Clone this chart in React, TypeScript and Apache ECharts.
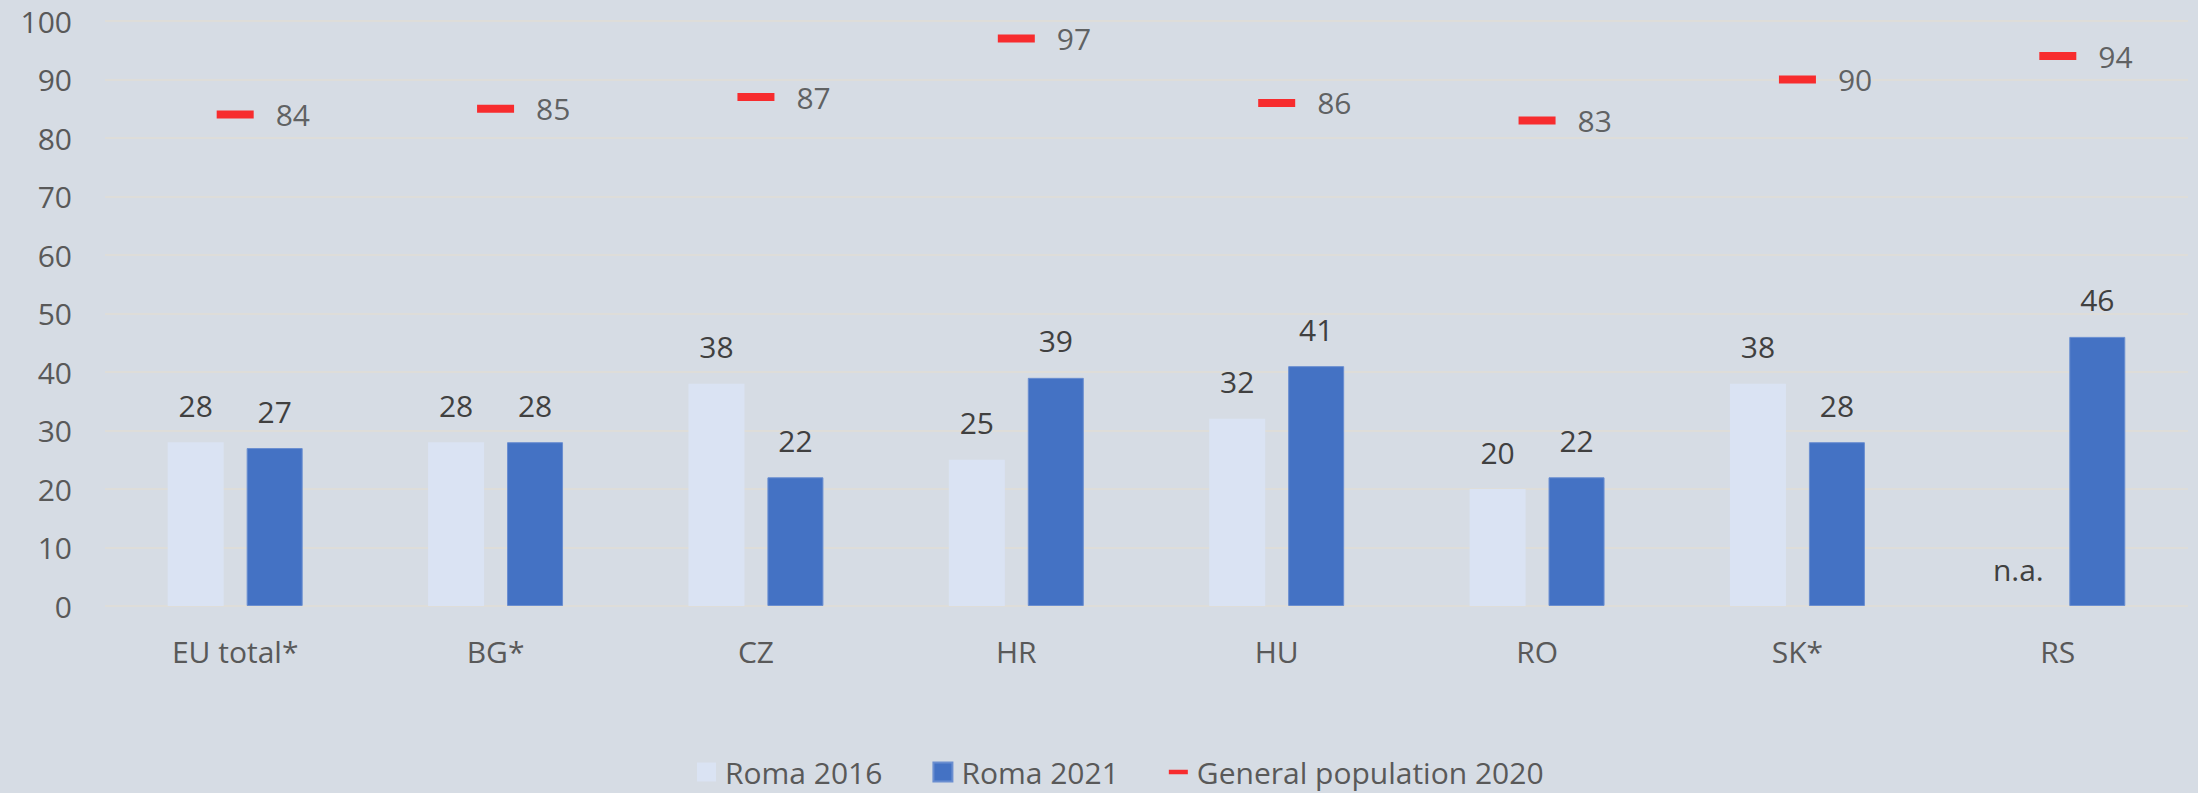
import React, { useEffect, useRef } from "react";
import * as echarts from "echarts";

const categories = ["EU total*", "BG*", "CZ", "HR", "HU", "RO", "SK*", "RS"];
const roma2016: (number | null)[] = [28, 28, 38, 25, 32, 20, 38, null];
const roma2021: number[] = [27, 28, 22, 39, 41, 22, 28, 46];
const general2020: number[] = [84, 85, 87, 97, 86, 83, 90, 94];
const seriesNames = ["Roma 2016", "Roma 2021", "General population 2020"];
const missingText = "n.a.";

const FONT = "'Open Sans', 'Noto Sans', sans-serif";

export default function App() {
  const ref = useRef<HTMLDivElement>(null);

  useEffect(() => {
    document.body.style.margin = "0";
    if (!ref.current) return;
    const chart = echarts.init(ref.current, null, { renderer: "svg" });

    const barLabel = {
      show: true,
      position: "top",
      distance: 22,
      fontFamily: FONT,
      fontSize: 30,
      lineHeight: 30,
      color: "#404040",
      formatter: (p: any) => String(Math.round(p.value)),
    };

    const data2016 = roma2016.map((v) =>
      v === null
        ? { value: 0, label: { formatter: missingText } }
        : { value: v }
    );

    const option: any = {
      animation: false,
      backgroundColor: "#D6DCE4",
      textStyle: { fontFamily: FONT },
      grid: { left: 105, right: 10, top: 21, bottom: 187, containLabel: false },
      legend: {
        left: 692,
        top: 751,
        itemWidth: 19,
        itemHeight: 19,
        itemGap: 50,
        textStyle: {
          fontFamily: FONT,
          fontSize: 30,
          lineHeight: 32,
          color: "#595959",
          padding: [0, 0, 0, 4],
        },
        data: [
          { name: seriesNames[0], icon: "rect" },
          { name: seriesNames[1], icon: "rect" },
          {
            name: seriesNames[2],
            icon: "path://M0,0L0.001,0ZM0,7H20V12H0ZM20,19L20.001,19Z",
          },
        ],
      },
      xAxis: {
        type: "category",
        data: categories,
        axisLine: { show: false },
        axisTick: { show: false },
        axisLabel: {
          fontFamily: FONT,
          fontSize: 30,
          color: "#595959",
          margin: 30,
        },
      },
      yAxis: {
        type: "value",
        min: 0,
        max: 100,
        interval: 10,
        axisLine: { show: false },
        axisTick: { show: false },
        axisLabel: {
          fontFamily: FONT,
          fontSize: 30,
          lineHeight: 30,
          color: "#595959",
          margin: 33,
        },
        splitLine: { lineStyle: { color: "#DEDDD9", width: 2 } },
      },
      series: [
        {
          name: seriesNames[0],
          type: "bar",
          data: data2016,
          barWidth: 56,
          barGap: "41%",
          itemStyle: { color: "#DAE3F3" },
          label: barLabel,
        },
        {
          name: seriesNames[1],
          type: "bar",
          data: roma2021,
          barWidth: 56,
          barGap: "41%",
          itemStyle: { color: "#4472C4", borderColor: "#6A8ED0", borderWidth: 1 },
          label: barLabel,
        },
        {
          name: seriesNames[2],
          type: "scatter",
          data: general2020,
          symbol: "rect",
          symbolSize: [37, 8],
          itemStyle: { color: "#FF0000" },
          label: {
            show: true,
            position: "right",
            distance: 22,
            fontFamily: FONT,
            fontSize: 30,
            color: "#404040",
          },
          z: 5,
        },
      ],
    };

    chart.setOption(option);
    return () => chart.dispose();
  }, []);

  return <div ref={ref} style={{ width: 2198, height: 793 }} />;
}
